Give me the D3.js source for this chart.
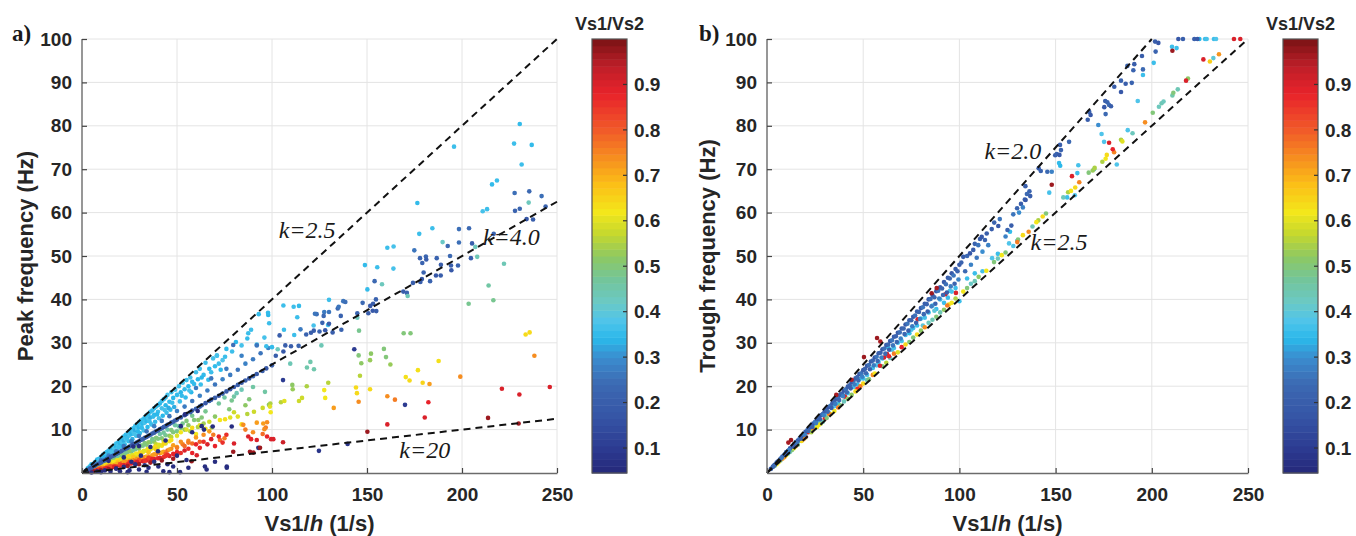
<!DOCTYPE html>
<html>
<head>
<meta charset="utf-8">
<script src="https://d3js.org/d3.v7.min.js"></script>
<style>
  body { margin: 0; background: #fff; }
  text { font-family: "Liberation Sans", Arial, sans-serif; }
  .axis .tick text { font-size: 19px; font-weight: bold; fill: #262626; }
  .axis .domain { stroke: #6b6b6b; stroke-width: 1.4; }
  .axis .tick line { stroke: #444; stroke-width: 1.2; }
  .title { font-size: 22px; font-weight: bold; fill: #262626; }
  .kline { stroke: #111; stroke-width: 2; stroke-dasharray: 7,5; fill: none; }
  .klabel { font-family: "Liberation Serif", "Times New Roman", serif; font-style: italic; font-size: 24px; fill: #1a1a1a; }
  .panel { font-family: "Liberation Serif", "Times New Roman", serif; font-weight: bold; font-size: 23px; fill: #1a1a1a; }
  .cbtitle { font-size: 18px; font-weight: bold; fill: #262626; }
  .cblabel { font-size: 19px; font-weight: bold; fill: #262626; }
</style>
</head>
<body>
<script>
// canvas
var W = 1356, H = 536;
var plotTop = 39, plotBottom = 473;

// ticks
var xTicks = [0, 50, 100, 150, 200, 250];
var yTicks = [10, 20, 30, 40, 50, 60, 70, 80, 90, 100];
var cbTicks = [0.1, 0.2, 0.3, 0.4, 0.5, 0.6, 0.7, 0.8, 0.9];
var cbDomain = [0.045, 1.0];

// colour bar stops (Vs1/Vs2 -> colour)
var cmapVals = [0.045, 0.10, 0.17, 0.24, 0.30, 0.34, 0.38, 0.42, 0.47, 0.52, 0.57, 0.62, 0.68, 0.73, 0.80, 0.88, 0.94, 1.0];
var cmapCols = ["#25287a", "#2c3b91", "#3655a6", "#3c69b2", "#3b8dcf", "#2ab8ea", "#4fc4ea", "#6bc9c6", "#73c59b", "#8dc864", "#c3d72f", "#f3e71b", "#fbbf17", "#f7951e", "#f15a29", "#e8222a", "#be1f29", "#7a1315"];

// ---------------- panel a: peak frequency, [Vs1/h, f, Vs1/Vs2] ----------------
var peakCloud = [
  [3,1.1,.36],[4,1.5,.35],[5,1.7,.37],[5,2.0,.34],[6,2.1,.36],[7,2.6,.35],[7,2.2,.38],[8,2.8,.36],[8,3.1,.34],[9,3.3,.35],
  [9,2.9,.37],[10,3.7,.36],[10,3.3,.33],[11,3.9,.35],[11,4.2,.38],[12,4.5,.36],[12,3.9,.34],[13,4.8,.35],[13,4.3,.37],[14,5.2,.36],
  [14,4.6,.34],[15,5.6,.35],[15,5.0,.37],[16,6.0,.36],[16,5.3,.33],[17,6.3,.35],[17,5.7,.38],[18,6.8,.36],[18,6.1,.34],[19,7.0,.35],
  [19,6.4,.37],[20,7.5,.36],[20,6.8,.34],[21,7.9,.35],[21,7.1,.37],[22,8.4,.36],[22,7.5,.33],[23,8.8,.35],[23,7.9,.38],[24,9.1,.36],
  [24,8.3,.34],[25,9.6,.35],[25,8.7,.37],[26,10.0,.36],[26,9.0,.34],[27,10.3,.35],[27,9.5,.37],[28,10.8,.36],[28,9.8,.33],[29,11.2,.35],
  [29,10.2,.38],[30,11.6,.36],[30,10.5,.34],[31,12.1,.35],[31,10.9,.37],[32,12.3,.36],[32,11.4,.34],[33,12.8,.35],[33,11.6,.37],[34,13.3,.36],
  [34,12.0,.34],[35,13.6,.35],[35,12.5,.37],[36,14.1,.36],[36,12.8,.33],[37,14.4,.35],[38,14.9,.36],[38,13.4,.34],[39,15.3,.37],[40,15.6,.35],
  [40,14.1,.36],[41,16.0,.34],[42,16.6,.36],[42,14.9,.37],[43,17.0,.35],[44,17.4,.36],[44,15.6,.34],[45,18.0,.37],[46,16.4,.35],[47,18.6,.36],
  [48,17.3,.34],[49,19.2,.37],[50,18.0,.35],[51,20.0,.36],[52,18.6,.34],[53,20.8,.37],[54,19.3,.35],[55,21.4,.36],[56,20.0,.34],[57,22.0,.37],
  [58,21.0,.35],[60,23.2,.36],[61,21.6,.34],[62,24.0,.37],[64,22.6,.35],[65,25.4,.36],[67,24.0,.34],[69,26.4,.37],[71,27.0,.35],[72,25.2,.36],
  [74,26.0,.38],[76,28.6,.35],[79,28.0,.36],[81,30.2,.34],[84,29.4,.37],[87,31.0,.35],[89,33.0,.36],[93,36.6,.35],[98,36.4,.34],[92,29.6,.36],
  [96,31.2,.37],[75.3,26.8,.36],[71,27.1,.37],[87.5,32.2,.36],
  [3.5,1.0,.34],[6.5,1.9,.35],[8.5,2.6,.37],[10.5,3.1,.35],[12.5,3.6,.34],[14.5,4.3,.36],[16.5,4.8,.35],[18.5,5.5,.37],[20.5,6.1,.34],[22.5,6.6,.36],
  [24.5,7.3,.35],[26.5,7.8,.33],[28.5,8.6,.36],[30.5,9.2,.35],[32.5,9.8,.37],[34.5,10.6,.34],[36.5,11.2,.36],[38.5,11.8,.35],[40.5,12.6,.37],[42.5,13.2,.34],
  [44.5,13.9,.36],[46.5,14.6,.35],[48.5,15.2,.33],[51.5,16.5,.36],[54.5,17.4,.35],[57.5,18.6,.34],[62.5,20.4,.36],[66.5,21.5,.35],[23.5,8.0,.36],[27.5,9.0,.37],
  [31.5,10.4,.35],[35.5,11.9,.36],[39.5,13.5,.34],[43.5,14.5,.37],[47.5,16.2,.36],[52.5,17.8,.35],[56.5,19.0,.37],[11.5,3.4,.33],[15.5,4.9,.37],[19.5,6.0,.36],
  [29.5,9.5,.34],[37.5,13.0,.35],[45.5,15.0,.33],[59,20.5,.35],[63,22.0,.34],[68,23.2,.36],[70,24.6,.35],[73,23.8,.34]
];
var peakMid = [
  [6,1.8,.27],[10,2.9,.26],[14,4.0,.28],[18,5.0,.27],[22,6.2,.26],[26,7.3,.28],[30,8.5,.27],[34,9.6,.26],[38,10.8,.28],[42,12.0,.27],
  [46,13.1,.26],[50,14.3,.28],[54,15.3,.27],[58,16.6,.26],[62,17.8,.28],[66,19.0,.27],[70,20.4,.26],[74,21.6,.28],[78,22.6,.27],[82,23.8,.26],
  [86,25.2,.28],[90,26.2,.27],[94,27.6,.26],[98,28.8,.28],[60,19.6,.27],[68,21.8,.26],[76,24.0,.27],[84,27.0,.28],[92,29.4,.26],[79.6,29.5,.25]
];
var peakBand = [
  [2,0.5,.2],[3,0.7,.18],[4,1.0,.21],[5,1.2,.19],[6,1.5,.2],[7,1.7,.18],[8,2.0,.21],[9,2.2,.19],[10,2.4,.2],[11,2.7,.18],
  [12,2.9,.21],[13,3.2,.19],[14,3.4,.2],[15,3.7,.18],[16,3.9,.21],[17,4.1,.19],[18,4.4,.2],[19,4.6,.18],[20,4.9,.21],[21,5.1,.19],
  [22,5.4,.2],[23,5.6,.18],[24,5.8,.21],[25,6.1,.19],[26,6.4,.2],[27,6.6,.18],[28,6.8,.21],[29,7.1,.19],[30,7.3,.2],[31,7.6,.18],
  [32,7.8,.21],[33,8.1,.19],[34,8.3,.2],[35,8.6,.18],[36,8.8,.21],[37,9.1,.19],[38,9.3,.2],[39,9.6,.18],[40,9.8,.21],[41,10.1,.19],
  [42,10.3,.2],[43,10.6,.18],[44,10.8,.21],[45,11.1,.19],[46,11.3,.2],[47,11.6,.18],[48,11.8,.21],[49,12.1,.19],[50,12.3,.2],[52,12.8,.18],
  [54,13.3,.21],[55,13.6,.19],[57,14.0,.2],[58,14.4,.18],[60,14.8,.21],[62,15.3,.19],[63,15.6,.2],[65,16.1,.18],[67,16.6,.21],[68,16.9,.19],
  [70,17.3,.2],[72,17.8,.18],[74,18.3,.21],[76,18.8,.19],[78,19.3,.2],[80,19.8,.18],[82,20.3,.21],[84,20.8,.19],[86,21.3,.2],[88,21.8,.18],
  [90,22.3,.21],[92,22.8,.19],[95,23.5,.2],[97,24.1,.18],[100,24.8,.21]
];
var peakColdScatter = [
  [230.4,80.4,.35],[227.4,75.9,.36],[236.7,75.6,.35],[231.4,71.1,.36],[215.8,66.5,.35],[218.4,67.4,.36],[195.8,75.2,.36],[176.5,62.2,.35],
  [210.9,60.3,.37],[213.2,60.8,.36],[184.4,56.4,.36],[177.5,55.1,.36],[160.7,51.9,.36],[164,52.2,.37],[148.9,47.9,.35],[155.4,47.4,.36],
  [163.9,47.1,.37],[150.2,42.3,.35],[130,39.9,.36],[111.4,38.3,.36],[114.2,38.5,.35],[106,38.6,.36],[113.3,35.9,.36],[121.9,34,.37],
  [129.5,34.1,.36],[106.3,33,.36],[97.9,36.9,.35],[98.5,34.5,.36],[97,29.2,.36],[100,29.0,.35],[111.7,31.8,.36],
  [227.7,64.5,.25],[235.4,64.9,.24],[241.9,63.8,.25],[244,61.4,.22],[227.9,60.4,.22],[230.4,60.9,.23],[234,58.5,.18],[237.4,58.4,.2],
  [216.7,55.1,.22],[198.4,56.2,.25],[203.7,56.4,.24],[192.5,52.3,.24],[198.4,53.1,.25],[205.3,52.9,.2],[204.7,49.5,.2],[174.9,51.3,.26],
  [177.9,49.5,.22],[181,49.9,.23],[181.2,49.2,.2],[179.1,48.4,.22],[186.7,49.5,.22],[193.7,50,.24],[188.9,48,.2],[194.2,47.8,.2],
  [197.9,47.8,.22],[194.4,46.7,.18],[179.8,46.2,.22],[186.3,45.5,.18],[188.8,45.5,.2],[178.9,44.7,.18],[178.1,44,.2],[183.2,44.2,.22],
  [174.2,43.8,.2],[154,44.2,.24],[169.1,41.8,.2],[171,41.5,.22],[154.7,40,.22],[153.2,39,.2],[151.7,38.5,.18],[147.7,39.2,.24],
  [150.7,36.8,.2],[153,37.4,.18],[154.9,37.3,.2],[144.9,36.8,.22],[137.5,39.6,.26],[138.6,39.4,.25],[134.6,37.9,.24],[135.1,38.3,.26],
  [136.2,36.2,.22],[130,37.1,.26],[127.5,37.1,.27],[127.2,36.2,.24],[123.5,36.6,.25],[122.6,36.7,.26],[126.5,34.6,.22],[130,34.4,.2],
  [136.5,33,.22],[131.9,32.4,.2],[122,32.8,.2],[125,32.6,.22],[128,32.9,.18],[115,33.1,.27],[118,31.9,.22],[120.5,32.3,.2],
  [104,31.7,.2],[110,29.2,.2],[114,29.3,.22],[107,29.4,.2],[102,27.0,.2],[106,28.0,.18],
  [143.3,28.5,.1],[105.8,21.4,.1],[170,15.7,.1],[124.7,5.1,.08],[139.8,6.7,.08]
];
var peakWarmScatter = [
  [235.1,62.3,.43],[207,52.1,.43],[208,49.8,.44],[222.1,48.2,.44],[189.8,53.2,.42],[157.9,43.5,.43],[171.4,40.8,.44],[144.9,35.8,.43],
  [126,29.4,.44],[118.4,24.3,.45],[122.1,23.9,.45],[120.2,25.6,.45],[109.6,25.2,.44],[96.3,18.7,.46],[103,28.5,.43],
  [214,43.2,.46],[216.5,39.8,.48],[203.5,39,.48],[145.8,32.8,.48],[169.3,32.2,.5],[172.9,32.2,.5],[145.6,27.1,.5],[147,25.3,.52],
  [152.1,27.5,.52],[151.6,26,.53],[158.9,28.6,.5],[160,26.7,.5],[162.3,25,.53],[146.3,22.4,.56],[110.7,20.3,.52],[110.9,19.3,.53],
  [118.3,20,.55],[129.6,20.8,.56],[98.4,15.7,.52],[99.1,16,.55],
  [233.5,31.9,.64],[235.6,32.4,.64],[187.7,25.8,.63],[176.8,23.7,.63],[170.4,22.1,.63],[172.4,21.3,.64],[179.3,20.8,.65],[144.2,19.7,.64],
  [144.7,18.4,.64],[151.6,19.3,.64],[127.5,19.1,.62],[128,17.3,.62],[114.2,16.6,.58],[115.8,17.3,.58],[104.7,16.3,.56],[106.5,16.6,.6],
  [95.1,15,.58],[98.9,15.3,.6],[99.3,14,.62],[90.5,14.1,.58],[87,13.6,.56],
  [182.9,20.5,.72],[199.1,22.2,.74],[238.1,27,.74],[145.6,16.4,.74],[160.7,17.7,.74],[164.7,16.9,.76],[132.5,15,.72],[97.4,11.7,.74],
  [96.7,10.5,.76],[96,10.1,.74],[95.1,9,.78],[95.4,11.4,.72],
  [182.3,16.3,.88],[180.4,12.8,.9],[160.7,11.2,.9],[221,19.4,.9],[230.2,18.1,.9],[246.2,19.8,.9],[97.4,8.4,.88],[99.5,7.8,.9],
  [100.7,7.8,.9],[105.8,7.1,.92],
  [150.2,9.5,.97],[213.7,12.7,.97],[229.8,11.4,.97],[93.7,5.8,.97],[79.6,4.9,.97],[88.4,4.9,.97],[90.2,4.7,.96],[57.7,2.7,.97]
];
var peakWedge = [
  // green
  [8,1.5,.5],[10,1.9,.48],[12,2.3,.5],[14,2.6,.52],[16,3.1,.48],[18,3.4,.5],[20,3.9,.47],[22,4.1,.52],[24,4.7,.49],[26,4.9,.5],
  [28,5.5,.47],[30,5.6,.52],[32,6.3,.48],[34,6.5,.5],[36,7.1,.47],[38,7.2,.52],[40,7.9,.49],[42,8.0,.5],[44,8.7,.48],[46,8.6,.52],
  [48,9.4,.5],[50,9.6,.48],[52,10.4,.5],[54,10.0,.53],[41,9.0,.46],[45,10.0,.45],[49,11.0,.46],
  [55,12.0,.5],[58,13.2,.48],[61.2,12.2,.52],[63,12.8,.5],[65,14.2,.48],[68.3,10.5,.55],[70,13.0,.52],[72,16.0,.47],[75,17.4,.46],
  [77.5,14.7,.5],[78.8,16.7,.48],[80,17.6,.46],[81.4,18.4,.44],[84,19.2,.44],[86,15.6,.52],[88,17.0,.5],[90,19.8,.46],
  [9,1.9,.48],[11,2.1,.5],[13,2.7,.47],[15,2.9,.52],[17,3.5,.5],[19,3.7,.46],[21,4.3,.5],[23,4.6,.48],[25,5.2,.52],[27,5.3,.47],
  [29,6.0,.5],[31,6.3,.49],[33,6.9,.5],[35,7.1,.52],[37,7.8,.48],[39,8.1,.5],[43,9.3,.47],[47,9.9,.5],[51,10.8,.46],[53,11.4,.48],
  [56,11.0,.52],[59,12.2,.5],[57,9.6,.56],[61,10.6,.55],[64,11.4,.54],[47,8.3,.56],[43,7.4,.57],[39,6.6,.57],
  // yellow
  [5,0.7,.62],[6,0.9,.6],[7,1.0,.64],[8,1.2,.62],[9,1.3,.6],[10,1.5,.64],[11,1.6,.62],[12,1.8,.6],[13,1.9,.63],[14,2.1,.62],
  [15,2.2,.6],[16,2.4,.64],[17,2.5,.62],[18,2.7,.6],[19,2.8,.63],[20,3.0,.62],[21,3.1,.6],[22,3.3,.64],[23,3.4,.62],[24,3.6,.6],
  [25,3.7,.63],[26,3.9,.62],[27,4.0,.6],[28,4.2,.64],[29,4.3,.62],[30,4.5,.6],[31,4.6,.63],[32,4.8,.62],[34,5.1,.6],[36,5.4,.63],
  [38,5.7,.62],[40,6.0,.6],[42,6.3,.63],[44,6.8,.6],[46,7.3,.62],[12,1.6,.58],[16,2.2,.57],[20,2.8,.58],[24,3.3,.57],[28,3.9,.58],
  [50,8.6,.6],[52,9.4,.62],[55,10.0,.6],[58,10.4,.64],[60,9.0,.62],[62,11.0,.6],[65,10.2,.62],[67,11.8,.58],[72.6,12.2,.62],[75.3,12.4,.63],
  [78,12.8,.6],[80,14.0,.58],[82,13.0,.6],[84,11.2,.64],
  [6.5,0.9,.6],[8.5,1.3,.63],[10.5,1.6,.6],[12.5,1.9,.64],[14.5,2.3,.6],[16.5,2.5,.62],[18.5,2.9,.63],[20.5,3.2,.6],[22.5,3.4,.62],[24.5,3.9,.64],
  [26.5,4.1,.6],[28.5,4.5,.62],[30.5,4.7,.64],[32.5,5.1,.6],[34.5,5.5,.63],[36.5,5.7,.6],[38.5,6.1,.64],[40.5,6.5,.6],[43,6.8,.65],[47,7.6,.63],
  [11,1.4,.66],[15,2.0,.66],[19,2.6,.67],[23,3.1,.66],[27,3.7,.67],[31,4.2,.66],[35,4.8,.67],[39,5.4,.66],
  // orange
  [5,0.55,.74],[7,0.75,.72],[9,1.0,.76],[11,1.2,.74],[13,1.4,.72],[15,1.6,.76],[17,1.8,.74],[19,2.1,.72],[21,2.3,.76],[23,2.5,.74],
  [25,2.7,.72],[27,2.9,.76],[29,3.2,.74],[31,3.4,.72],[33,3.6,.76],[35,3.8,.74],[37,4.1,.72],[39,4.3,.76],[41,4.6,.74],[43,4.9,.72],
  [45,5.2,.78],[47,5.6,.74],[50,6.0,.72],[53,6.6,.76],[56,7.4,.74],
  [48,6.4,.72],[52,7.2,.74],[56,7.0,.76],[60,8.2,.72],[64,8.8,.74],[67,9.6,.72],[69.1,8.8,.76],[72.6,7.6,.78],[75,8.0,.76],[84.9,11.1,.74],
  [86,10.0,.76],[90,9.4,.74],[92,11.6,.72],
  [6,0.7,.7],[10,1.2,.72],[14,1.6,.74],[18,2.0,.7],[22,2.5,.72],[26,2.9,.7],[30,3.4,.72],[34,3.8,.7],[38,4.3,.72],[42,4.7,.7],
  [46,5.4,.72],[50,5.8,.76],[54,6.2,.78],[58,6.8,.78],[62,7.2,.8],[44,4.4,.8],[36,3.4,.8],[28,2.7,.8],[20,1.9,.8],[13,1.2,.8],
  // red
  [4,0.35,.88],[6,0.5,.86],[8,0.7,.9],[10,0.85,.88],[12,1.0,.86],[14,1.2,.9],[16,1.35,.88],[18,1.5,.86],[20,1.7,.9],[22,1.85,.88],
  [24,2.0,.86],[26,2.2,.9],[28,2.35,.88],[30,2.5,.86],[32,2.7,.9],[34,2.9,.88],[36,3.0,.86],[38,3.2,.9],[40,3.4,.88],[43,3.7,.86],
  [46,3.9,.9],[49,4.2,.88],[52,4.6,.86],[10,1.0,.82],[15,1.5,.82],[20,2.0,.82],[25,2.5,.84],[30,3.0,.82],[35,3.5,.84],
  [45,4.2,.86],[50,4.8,.88],[54,5.2,.9],[58,4.6,.88],[60.4,4.1,.9],[62,5.8,.88],[66,6.6,.9],[70,6.2,.88],[74,7.0,.86],[80,6.8,.9],
  [87.5,8.4,.9],[89,7.8,.88],[92,7.6,.9],
  [5,0.4,.9],[9,0.8,.86],[13,1.1,.88],[17,1.5,.9],[21,1.8,.86],[25,2.2,.88],[29,2.5,.9],[33,2.8,.86],[37,3.2,.88],[41,3.5,.9],
  [44,3.9,.86],[48,4.4,.88],[56,5.6,.86],[60,6.6,.88],[64,7.2,.86],[68,7.8,.9],[72,8.4,.88],[76,8.8,.86],
  // dark red
  [6,0.4,.96],[10,0.6,.97],[14,0.9,.96],[18,1.1,.97],[24,1.6,.96],[30,2.0,.97],[36,2.4,.96],[42,2.9,.97],[48,3.3,.96]
];
var peakLow = [
  [27,6.1,.06],[30,6.2,.06],[40.2,1.5,.06],[45,2.0,.06],[54.2,13.5,.06],[60.9,14.3,.06],[64.7,1.5,.06],[68.8,10.7,.06],[76.2,1.5,.06],
  [78.8,10.7,.06],[63,10.8,.06],[64.2,10,.06],[65.6,0.8,.06],[76.2,1.2,.06],[92.8,5.8,.07],[42.8,0.4,.06],[48,1.5,.06],[51.6,0.2,.06],
  [35,1.2,.06],[30,0.8,.06],[25,0.6,.06],[20,0.4,.06],[15,0.3,.06],[10,0.2,.06],[5,0.1,.06],[18,1.0,.07],[22,1.4,.06],[28,2.0,.07],
  [33,1.8,.06],[38,2.6,.07],[12,0.6,.06],[8,0.4,.07],
  [14,2.8,.06],[22,3.6,.06],[31,4.0,.06],[36,6.0,.06],[26,2.6,.06],[40,5.0,.06],[44,7.5,.06],[50,4.0,.06],[55,3.0,.06],[58,9.4,.06],
  [70,2.6,.06],[52,10.8,.06],[34,0.3,.06],[46,0.2,.06],[24,0.2,.06],[56,1.2,.06]
];

// ---------------- panel b: trough frequency ----------------
var troughBand = [
  [2,0.95,.2],[3,1.4,.22],[4,1.9,.18],[5,2.4,.24],[6,2.8,.2],[7,3.3,.22],[8,3.8,.18],[9,4.2,.25],[10,4.8,.2],[11,5.1,.22],
  [12,5.7,.18],[13,6.1,.24],[14,6.6,.2],[15,7.1,.22],[16,7.5,.18],[17,8.0,.26],[18,8.5,.2],[19,8.9,.22],[20,9.5,.19],[21,9.9,.24],
  [22,10.4,.2],[23,10.8,.22],[24,11.4,.18],[25,11.8,.26],[26,12.3,.2],[27,12.7,.22],[28,13.3,.19],[29,13.6,.25],[30,14.2,.2],[31,14.6,.23],
  [32,15.2,.18],[33,15.5,.26],[34,16.1,.2],[35,16.5,.22],[36,17.1,.19],[37,17.4,.25],[38,18.0,.2],[39,18.3,.23],[40,19.0,.18],[41,19.3,.26],
  [42,19.9,.2],[43,20.2,.22],[44,20.9,.19],[45,21.2,.25],[46,21.8,.2],[47,22.1,.23],[48,22.8,.18],[49,23.0,.26],[50,23.7,.2],[51,24.0,.22],
  [52,24.7,.19],[53,24.9,.25],[54,25.7,.2],[55,25.9,.23],[56,26.6,.18],[57,26.8,.26],[58,27.6,.2],[59,27.7,.22],[60,28.5,.19],[61,28.7,.25],
  [62,29.5,.2],[63,29.6,.23],[64,30.4,.18],[65,30.6,.26],[66,31.4,.2],[67,31.5,.22],[68,32.3,.19],[69,32.4,.25],[70,33.3,.2],[71,33.3,.23],
  [72,34.2,.18],[73,34.4,.26],[74,35.2,.2],[75,35.2,.22],[76,36.0,.19],[77,36.3,.25],[78,37.2,.2],[79,37.1,.23],[80,38.0,.18],[81,38.2,.26],
  [82,39.0,.2],[83,38.9,.22],[84,40.0,.19],[85,40.1,.25],[86,41.0,.2],[87,40.5,.23],[88,41.9,.18],[89,42.0,.26],[90,42.8,.2],[91,42.5,.22],
  [92,44.0,.19],[93,43.5,.25],[94,45.0,.2],[95,44.8,.23],[96,46.0,.18],[97,45.5,.26],[98,47.0,.2],[99,46.5,.22],[100,48.0,.19],
  [101,48.5,.22],[102,49.8,.2],[104,50.0,.24],[105.5,50.6,.18],[107.2,51.4,.2],[108,52.8,.22],[109.8,52.5,.26],[110.7,53.9,.2],[111.6,54.4,.18],
  [113.3,53.7,.22],[114.2,55.2,.2],[116.8,56.2,.2],[118.1,57.7,.22],[120.2,56.9,.18],[121,58.5,.26],[124,54.5,.28],[125,56.0,.22],[127,57.0,.2],
  [128,59.6,.26],[130,61.0,.22],[131,60.0,.3],[132,62.0,.2],[133,61.2,.28],[134,63.0,.22],[134.3,66.1,.2],[136.4,64.9,.22],[135.1,64.3,.24],
  [134.4,62.9,.18],[136.8,63.8,.2],[141.2,70.2,.2],[142.3,69.6,.22],[145.7,69.4,.24],[148,69.4,.28],[149.8,73.2,.2],[150.6,73.5,.22],
  [152,73.3,.18],[152.3,75.6,.2],[152.8,74.4,.22],[157,76.3,.24],[166.7,81.4,.2],[167.5,83.2,.22],[168.2,82.5,.18],[172.2,80.2,.3],
  [175.8,85.7,.2],[176.9,85.4,.22],[177.8,84.8,.24],[178.8,84.5,.2],[175.3,84.3,.18],[176,82.7,.24],[180.5,89,.2],[184,90.4,.22],
  [186.4,89.7,.2],[189.6,89.9,.22],[184,87.8,.18],[187.3,93.8,.22],[190.9,94.2,.2],[190.4,92.8,.22],[195.4,93,.24],[194.9,96.1,.2],
  [202,97.1,.22],[201.7,99.4,.2],[203.4,99.1,.18],[213.8,100,.18],[216.2,100,.2],[222.1,100,.2],[223.7,100,.18],
  [3.5,1.65,.24],[5.5,2.55,.2],[7.5,3.45,.26],[9.5,4.35,.22],[11.5,5.3,.28],[13.5,6.2,.2],[15.5,7.0,.26],[17.5,7.9,.22],[19.5,8.8,.28],[21.5,9.7,.24],
  [23.5,10.6,.2],[25.5,11.5,.27],[27.5,12.4,.22],[29.5,13.3,.28],[31.5,14.1,.24],[33.5,15.0,.2],[35.5,15.9,.27],[37.5,16.8,.23],[39.5,17.7,.28],[41.5,18.6,.24],
  [43.5,19.5,.2],[45.5,20.4,.27],[47.5,21.3,.23],[49.5,22.2,.28],[51.5,23.0,.24],[53.5,23.9,.2],[55.5,24.8,.27],[57.5,25.8,.23],[59.5,26.6,.28],[61.5,27.5,.24],
  [63.5,28.4,.2],[65.5,29.4,.26],[67.5,30.2,.23],[69.5,31.0,.28],[71.5,32.0,.24],[73.5,32.8,.2],[75.5,33.8,.27],[77.5,34.6,.22],[79.5,35.5,.28],[81.5,36.6,.24],
  [83.5,37.2,.2],[85.5,38.4,.27],[87.5,39.0,.22],[89.5,40.2,.28],[91.5,41.0,.24],[93.5,41.6,.2],[95.5,43.0,.27],[97.5,43.6,.22],[99.5,44.6,.28],[103,46.5,.24],
  [106,48.0,.28],[109,49.6,.26],[112,51.0,.3],[115,52.5,.28]
];
var troughCyan = [
  [10,4.6,.35],[15,6.9,.36],[20,9.0,.36],[25,11.0,.37],[30,13.4,.36],[35,15.4,.38],[40,17.8,.36],[45,19.8,.37],[48,21.6,.36],[52,22.6,.38],
  [55,24.2,.36],[58,25.6,.37],[62,27.0,.36],[63,28.9,.36],[65,28.4,.38],[68,30.0,.36],[70,30.4,.37],[72,31.8,.36],[75,33.0,.38],[78,34.0,.36],
  [80,35.6,.37],[84,37.0,.36],[86,38.6,.38],[88,37.8,.36],[90,40.0,.37],[92,39.2,.36],[95,42.0,.38],[98,42.6,.36],[100,39.6,.36],
  [108,46.0,.36],[112,46.5,.37],[117,49.5,.38],[120,50.5,.36],[125.8,52.9,.38],[128,52.3,.38],[130.1,53.5,.36],[126.3,55.6,.35],
  [146.7,64.6,.37],[151.8,71.4,.35],[152.4,70.8,.34],[156,63.5,.36],[160,64,.38],[161.3,69.1,.36],[161.8,70.9,.37],[173.9,78.1,.38],
  [175.2,76.3,.38],[181.8,71.1,.38],[187.5,79,.38],[192.7,85.7,.38],[195.4,91.7,.36],[201,94.5,.36],[210.5,98.2,.36],[212.9,97.9,.36],
  [224.7,100,.34],[227.7,100,.36],[228.5,100,.37],[232.3,100,.36],[233.4,100,.38],
  [12,5.2,.37],[17,7.4,.35],[22,9.6,.36],[27,11.9,.37],[32,14.0,.35],[37,16.0,.36],[42,18.4,.37],[47,20.4,.35],[50,21.8,.36],[57,24.8,.38],
  [60,26.4,.36],[66,28.8,.37],[74,32.2,.35],[76,33.4,.36],[82,35.8,.37],[94,40.4,.36],[96,41.8,.37],[104,44.8,.36],[81,34.0,.4],[87,37.4,.4]
];
var troughLower = [
  [12,4.9,.44],[25,10.3,.43],[40,16.5,.43],[52,21.4,.44],[64,26.5,.43],[84,34.6,.43],[86,35.3,.44],[90,37.0,.44],[106,43.6,.42],[120,49.4,.43],
  [138,56.8,.44],[154,63.5,.43],[170,70.0,.44],[190,78.3,.43],[203.7,84.4,.43],[205.1,85.2,.44],[206.1,85.6,.43],[210.7,87,.45],[213.5,88.4,.44],[232,95.6,.4],
  [7,2.9,.5],[13,5.3,.5],[20,8.2,.52],[28,11.4,.55],[38,15.6,.5],[44,18.0,.52],[60,24.6,.5],[76,31.2,.5],[80,32.8,.52],[88,36.0,.5],
  [98,40.2,.55],[110,45.2,.52],[118,48.6,.5],[130.5,53.8,.5],[141,58.2,.55],[145,59.8,.5],[156.5,64.7,.55],[167.2,69.2,.5],[169.3,69.7,.53],
  [170.3,70.3,.55],[174.3,71.7,.55],[184,76.8,.55],[200.5,83,.5],[211.2,87.6,.5],[218.8,90.9,.52],
  [5,2.0,.62],[10,4.1,.62],[18,7.4,.64],[27,11.1,.62],[33,13.6,.64],[50,20.6,.64],[72,29.6,.64],[94.5,38.8,.64],[102,41.8,.62],[122,50.2,.62],
  [133,54.8,.64],[140,57.8,.62],[143.3,59.1,.64],[158,65.0,.62],[160.2,65.8,.64],[176,72.4,.62],[176.6,73.3,.64],[184.7,76.4,.6],[230.2,94.8,.66],
  [8,3.3,.72],[15,6.2,.74],[24,10.0,.74],[32.2,13.6,.76],[48.5,20,.76],[55,22.6,.74],[66,27.5,.76],[82,33.6,.74],[93.7,38.6,.76],
  [130.1,53.2,.76],[162.3,67,.75],[180.4,73.9,.75],[196.5,80.8,.74],[234.9,96.5,.73],
  [20,8.3,.88],[21.5,9.4,.9],[30,12.5,.88],[40.5,17.6,.9],[47,19.4,.86],[58.7,24.7,.9],[60.8,26.6,.9],[62.4,27.4,.9],[63.4,26.9,.88],
  [70,29.0,.88],[78.3,35.4,.9],[92.7,41.2,.9],[98.2,41.5,.9],[158.5,68.4,.9],[177.8,76.1,.9],[179.7,74.6,.88],[217.8,90.4,.9],
  [226.8,95.3,.9],[242.7,100,.9],[246,100,.9],
  [4,1.65,.5],[6,2.45,.62],[9,3.65,.72],[11,4.5,.44],[14,5.7,.6],[16,6.5,.5],[19,7.8,.74],[23,9.4,.55],[26,10.6,.62],[29,11.8,.44],
  [31,12.7,.5],[35,14.3,.62],[37,15.1,.76],[42,17.1,.52],[46,18.8,.64],[53,21.6,.5],[56,22.9,.62],[62,25.4,.56],[68,27.8,.6],[74,30.2,.5],
  [78,31.9,.64],[92,37.6,.52],[96,39.2,.62],[104,42.6,.5],[108,44.2,.44],[114,46.6,.62],[124,50.8,.5],[136,55.6,.74]
];
var troughDark = [
  [11.1,7.0,.96],[12.5,7.6,.97],[36,18.0,.96],[44,21.5,.95],[50.4,26.7,.97],[57.2,31.1,.97],[58.9,30.3,.96],[85.6,41.4,.97],
  [88.2,42.6,.96],[148,66.4,.97],[210.7,97.3,.97]
];

// dashed k-lines and their labels (label position in data units)
var peakK = [2.5, 4.0, 20];
var peakKLabels = [["k=2.5", 103.5, 54.2], ["k=4.0", 211, 52.5], ["k=20", 167, 3.5]];
var troughK = [2.0, 2.5];
var troughKLabels = [["k=2.0", 113, 72.4], ["k=2.5", 137, 51.4]];

var color = d3.scaleLinear()
    .domain(cmapVals)
    .range(cmapCols)
    .clamp(true);

var svg = d3.select("body")
            .append("svg")
            .attr("width", W)
            .attr("height", H);

function drawPanel(p) {
    var x = d3.scaleLinear().domain([0, 250]).range([p.left, p.right]);
    var y = d3.scaleLinear().domain([0, 100]).range([plotBottom, plotTop]);
    var g = svg.append("g");

    // grid
    g.selectAll(".gx").data(xTicks.slice(1)).enter().append("line")
        .attr("x1", function(d) { return x(d); }).attr("x2", function(d) { return x(d); })
        .attr("y1", plotTop).attr("y2", plotBottom)
        .attr("stroke", "#e4e4e4").attr("stroke-width", 1);
    g.selectAll(".gy").data(yTicks).enter().append("line")
        .attr("x1", p.left).attr("x2", p.right)
        .attr("y1", function(d) { return y(d); }).attr("y2", function(d) { return y(d); })
        .attr("stroke", "#e4e4e4").attr("stroke-width", 1);

    // scatter
    g.append("g").selectAll("circle")
        .data(p.points)
        .enter().append("circle")
        .attr("cx", function(d) { return x(d[0]); })
        .attr("cy", function(d) { return y(d[1]); })
        .attr("r", 2.3)
        .attr("fill", function(d) { return color(d[2]); });

    // k lines: f = (Vs1/h) / k, cut at the top of the frame
    g.selectAll(".kline").data(p.ks).enter().append("line")
        .attr("class", "kline")
        .attr("x1", x(0)).attr("y1", y(0))
        .attr("x2", function(k) { return x(Math.min(250, 100 * k)); })
        .attr("y2", function(k) { return y(Math.min(100, 250 / k)); });

    g.selectAll(".klabel").data(p.kLabels).enter().append("text")
        .attr("class", "klabel")
        .attr("x", function(d) { return x(d[1]); })
        .attr("y", function(d) { return y(d[2]); })
        .text(function(d) { return d[0]; });

    // axes
    g.append("g").attr("class", "axis")
        .attr("transform", "translate(0," + plotBottom + ")")
        .call(d3.axisBottom(x).tickValues(xTicks).tickSizeInner(-5).tickSizeOuter(0).tickPadding(15));
    g.append("g").attr("class", "axis")
        .attr("transform", "translate(" + p.left + ",0)")
        .call(d3.axisLeft(y).tickValues(yTicks).tickSizeInner(-5).tickSizeOuter(0).tickPadding(10))
        .call(function(a) { a.select(".domain").attr("d", "M0," + plotTop + "V" + plotBottom); });

    var xt = g.append("text").attr("class", "title")
        .attr("x", (p.left + p.right) / 2).attr("y", 531)
        .attr("text-anchor", "middle");
    xt.append("tspan").text("Vs1/");
    xt.append("tspan").attr("font-style", "italic").text("h");
    xt.append("tspan").text(" (1/s)");

    g.append("text").attr("class", "title")
        .attr("transform", "translate(" + p.yTitleX + "," + (plotTop + plotBottom) / 2 + ") rotate(-90)")
        .attr("text-anchor", "middle")
        .text(p.yTitle);

    g.append("text").attr("class", "panel")
        .attr("x", p.tagX).attr("y", 41)
        .text(p.tag);

    // colour bar
    var cb = d3.scaleLinear().domain(cbDomain).range([plotBottom, plotTop]);
    var nBands = 64;
    var step = (cbDomain[1] - cbDomain[0]) / nBands;
    var bands = d3.range(nBands).map(function(i) { return cbDomain[0] + i * step; });
    g.append("g").selectAll("rect").data(bands).enter().append("rect")
        .attr("x", p.cbLeft).attr("width", 35)
        .attr("y", function(d) { return cb(d + step); })
        .attr("height", function(d) { return cb(d) - cb(d + step) + 0.5; })
        .attr("fill", function(d) { return color(d + step / 2); });
    g.append("rect")
        .attr("x", p.cbLeft).attr("y", plotTop).attr("width", 35).attr("height", plotBottom - plotTop)
        .attr("fill", "none").attr("stroke", "#555").attr("stroke-width", 1.2);
    g.selectAll(".cbt").data(cbTicks).enter().append("line")
        .attr("x1", p.cbLeft + 31).attr("x2", p.cbLeft + 35)
        .attr("y1", function(d) { return cb(d); }).attr("y2", function(d) { return cb(d); })
        .attr("stroke", "#333").attr("stroke-width", 1.2);
    g.selectAll(".cbl").data(cbTicks).enter().append("text")
        .attr("class", "cblabel")
        .attr("x", p.cbLeft + 42)
        .attr("y", function(d) { return cb(d); })
        .attr("dy", "0.35em")
        .text(function(d) { return d3.format(".1f")(d); });
    g.append("text").attr("class", "cbtitle")
        .attr("x", p.cbLeft + 17.5).attr("y", 30)
        .attr("text-anchor", "middle")
        .text("Vs1/Vs2");
}

drawPanel({
    left: 82, right: 557, cbLeft: 592, yTitleX: 33, tagX: 12, tag: "a)",
    yTitle: "Peak frequency (Hz)",
    points: [].concat(peakCloud, peakMid, peakWedge, peakBand, peakLow, peakColdScatter, peakWarmScatter),
    ks: peakK, kLabels: peakKLabels
});

drawPanel({
    left: 767, right: 1248, cbLeft: 1283, yTitleX: 715, tagX: 699, tag: "b)",
    yTitle: "Trough frequency (Hz)",
    points: [].concat(troughCyan, troughLower, troughBand, troughDark),
    ks: troughK, kLabels: troughKLabels
});
</script>
</body>
</html>
